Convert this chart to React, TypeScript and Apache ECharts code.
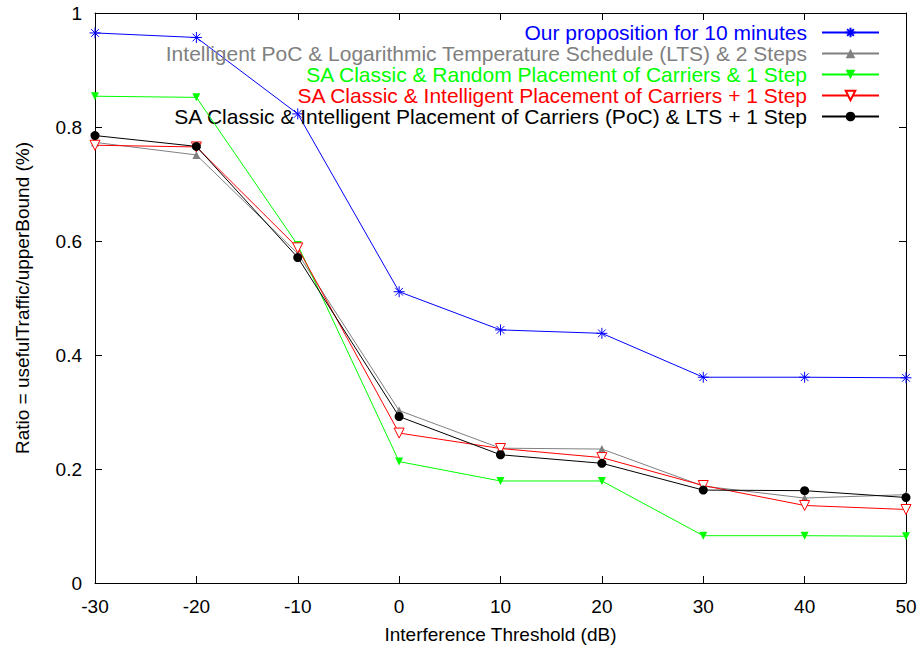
import React, { useEffect, useRef } from 'react';
import * as echarts from 'echarts';

const xValues = [-30, -20, -10, 0, 10, 20, 30, 40, 50];
const seriesNames = [
  'Our proposition for 10 minutes',
  'Intelligent PoC & Logarithmic Temperature Schedule (LTS) & 2 Steps',
  'SA Classic & Random Placement of Carriers & 1 Step',
  'SA Classic & Intelligent Placement of Carriers + 1 Step',
  'SA Classic & Intelligent Placement of Carriers (PoC) & LTS + 1 Step',
];
const blueValues = [0.965, 0.957, 0.823, 0.511, 0.444, 0.438, 0.361, 0.361, 0.36];
const grayValues = [0.773, 0.751, 0.578, 0.3025, 0.2365, 0.235, 0.17, 0.149, 0.155];
const greenValues = [0.854, 0.852, 0.593, 0.213, 0.179, 0.179, 0.083, 0.083, 0.082];
const redValues = [0.768, 0.765, 0.588, 0.263, 0.236, 0.22, 0.171, 0.136, 0.129];
const blackValues = [0.785, 0.766, 0.571, 0.292, 0.225, 0.21, 0.163, 0.162, 0.15];

const FONT = 'Liberation Sans, Arial, sans-serif';
const FS = 19;
const LEGEND_FS = 21;

const starPath = 'path://M0 -10 L0 10 M-10 0 L10 0 M-7 -7 L7 7 M-7 7 L7 -7';

export default function App() {
  const ref = useRef<HTMLDivElement>(null);
  useEffect(() => {
    const chart = echarts.init(ref.current!, null, { renderer: 'svg' });
    const pairs = (vals: number[]) => xValues.map((x, i) => [x, vals[i]]);
    const colors = ['#0000ff', '#808080', '#00ff00', '#ff0000', '#000000'];
    const valueSets = [blueValues, grayValues, greenValues, redValues, blackValues];
    const symbols: any[] = [
      { symbol: starPath, symbolSize: 11, symbolRotate: 0, itemStyle: { color: '#0000ff', borderColor: '#0000ff', borderWidth: 1 } },
      { symbol: 'triangle', symbolSize: 8, symbolRotate: 0, itemStyle: { color: '#808080', borderWidth: 0 } },
      { symbol: 'triangle', symbolSize: 8, symbolRotate: 180, itemStyle: { color: '#00ff00', borderWidth: 0 } },
      { symbol: 'triangle', symbolSize: 10, symbolRotate: 180, itemStyle: { color: '#ffffff', borderColor: '#ff0000', borderWidth: 1 } },
      { symbol: 'circle', symbolSize: 9, symbolRotate: 0, itemStyle: { color: '#000000', borderWidth: 0 } },
    ];
    const axisLine = { show: true, onZero: false, lineStyle: { color: '#000', width: 1 } };
    const axisTick = { show: true, inside: true, length: 7, lineStyle: { color: '#000', width: 1 } };
    chart.setOption({
      animation: false,
      backgroundColor: '#fff',
      textStyle: { fontFamily: FONT },
      grid: { left: 95, right: 14, top: 13, bottom: 69 },
      legend: {
        orient: 'vertical',
        right: 40,
        top: 22,
        padding: 0,
        align: 'right',
        itemWidth: 57,
        itemHeight: 12,
        itemGap: 0,
        selectedMode: false,
        textStyle: { fontSize: LEGEND_FS, lineHeight: 21, fontFamily: FONT, padding: [0, 10, 0, 0] },
        data: seriesNames.map((n, i) => ({ name: n, textStyle: { color: colors[i] } })),
      },
      xAxis: [
        {
          type: 'value', min: -30, max: 50, interval: 10, position: 'bottom',
          axisLine, axisTick,
          axisLabel: { color: '#000', fontSize: FS, fontFamily: FONT, margin: 14 },
          splitLine: { show: false },
          name: 'Interference Threshold (dB)', nameLocation: 'middle', nameGap: 42,
          nameTextStyle: { color: '#000', fontSize: FS, fontFamily: FONT },
        },
        {
          type: 'value', min: -30, max: 50, interval: 10, position: 'top',
          axisLine, axisTick, axisLabel: { show: false }, splitLine: { show: false },
        },
      ],
      yAxis: [
        {
          type: 'value', min: 0, max: 1, interval: 0.2, position: 'left',
          axisLine, axisTick,
          axisLabel: { color: '#000', fontSize: FS, fontFamily: FONT, margin: 13 },
          splitLine: { show: false },
          name: 'Ratio = usefulTraffic/upperBound (%)', nameLocation: 'middle', nameGap: 63,
          nameTextStyle: { color: '#000', fontSize: FS, fontFamily: FONT },
        },
        {
          type: 'value', min: 0, max: 1, interval: 0.2, position: 'right',
          axisLine, axisTick, axisLabel: { show: false }, splitLine: { show: false },
        },
      ],
      series: seriesNames.map((name, i) => ({
        name,
        type: 'line',
        xAxisIndex: 0,
        yAxisIndex: 0,
        data: pairs(valueSets[i]),
        ...symbols[i],
        showSymbol: true,
        lineStyle: { color: colors[i], width: 1 },
        color: colors[i],
        z: 2 + i,
      })),
    });
    return () => chart.dispose();
  }, []);
  return <div ref={ref} style={{ position: 'fixed', left: 0, top: 0, width: 920, height: 652 }} />;
}
